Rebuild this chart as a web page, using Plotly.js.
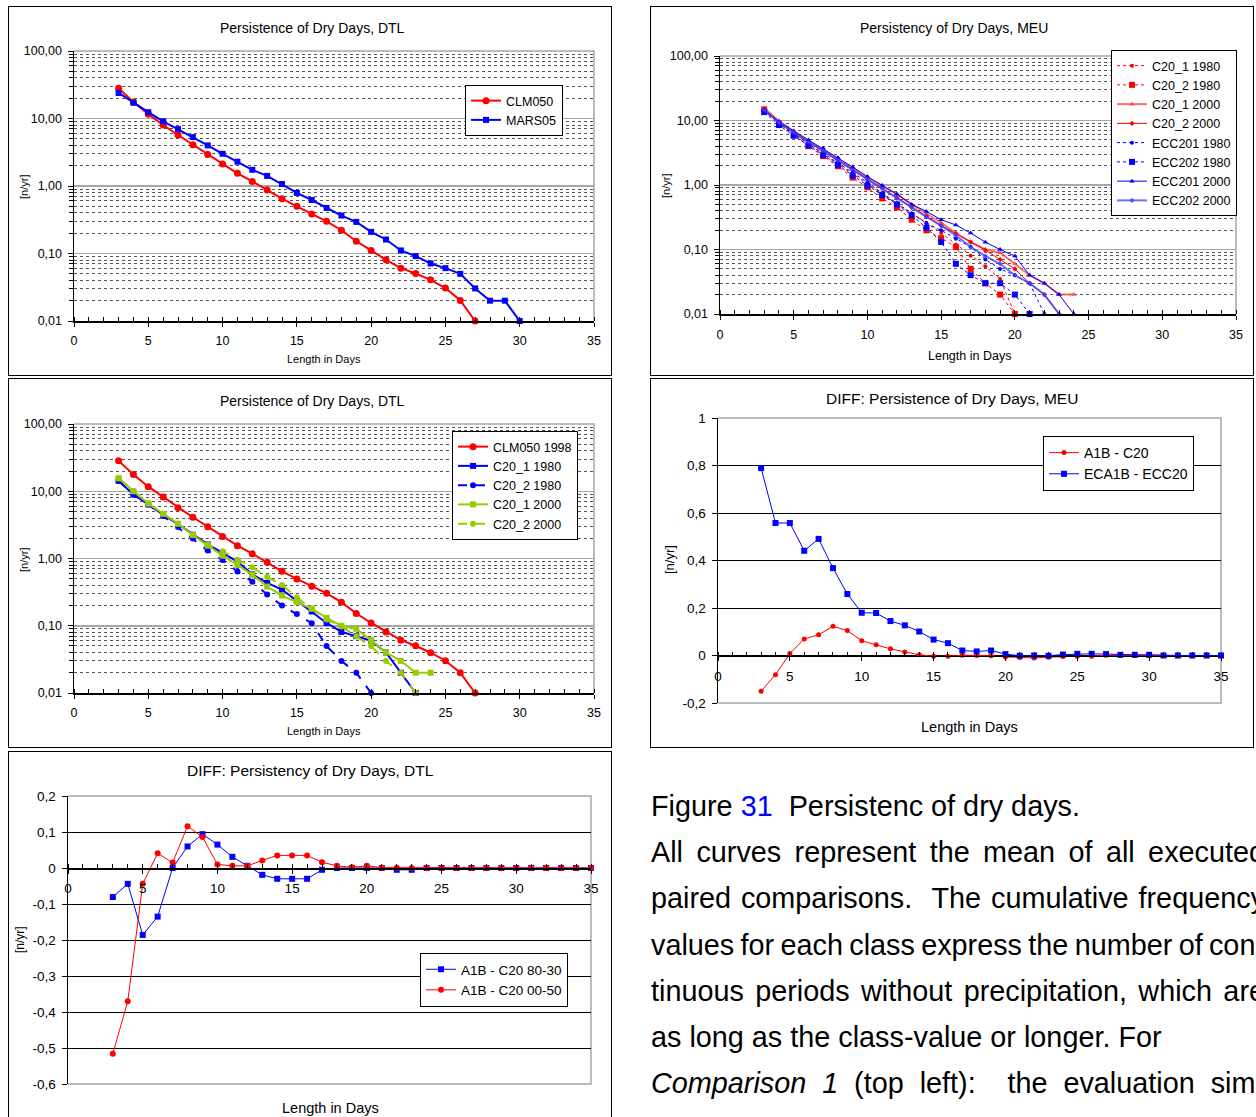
<!DOCTYPE html>
<html><head><meta charset="utf-8">
<script src="https://cdn.plot.ly/plotly-3.0.1.min.js"></script>
<style>
html,body{margin:0;padding:0;background:#fff;overflow:hidden;width:1256px;height:1117px;}
.panel{position:absolute;}
.frame{position:absolute;border:1.5px solid #000;box-sizing:border-box;pointer-events:none;}
#txt{position:absolute;left:651px;top:783px;width:614px;font-family:'Liberation Sans',Arial,Helvetica,sans-serif;font-size:28.8px;line-height:46.17px;color:#000;}
#txt div{white-space:nowrap;}
</style></head>
<body>
<div id="p1" class="panel"></div>
<div id="p2" class="panel"></div>
<div id="p3" class="panel"></div>
<div id="p4" class="panel"></div>
<div id="p5" class="panel"></div>
<div id="f1" class="frame"></div><div id="f2" class="frame"></div><div id="f3" class="frame"></div><div id="f4" class="frame"></div><div id="f5" class="frame"></div>
<div id="txt">
<div>Figure <span style="color:#0000ff">31</span>&nbsp; Persistenc of dry days.</div>
<div class="j">All curves represent the mean of all executed</div>
<div class="j">paired comparisons.&nbsp; The cumulative frequency</div>
<div class="j">values for each class express the number of con-</div>
<div class="j">tinuous periods without precipitation, which are</div>
<div>as long as the class-value or longer. For</div>
<div class="j"><i>Comparison 1</i> (top left):&nbsp; the evaluation sim-</div>
</div>
<script>
const FONT = "'Liberation Sans', Arial, Helvetica, sans-serif";

// ---------- DATA ----------
const lengthDays = [3,4,5,6,7,8,9,10,11,12,13,14,15,16,17,18,19,20,21,22,23,24,25,26,27,28,29,30,31,32,33,34,35];
const xTickVals = [0,5,10,15,20,25,30,35];
const xTickText = ['0','5','10','15','20','25','30','35'];
const logTickVals = [0.01,0.1,1,10,100];
const logTickText = ['0,01','0,10','1,00','10,00','100,00'];

// Panel 1: Persistence of Dry Days, DTL
const p1_CLM050 = [28,17.6,11.6,8.0,5.7,4.1,2.94,2.11,1.54,1.17,0.87,0.65,0.5,0.385,0.3,0.221,0.152,0.111,0.0805,0.0607,0.0506,0.0408,0.0308,0.0202,0.01];
const p1_MARS05 = [23.9,17.1,12.4,9.1,6.96,5.3,3.99,3.0,2.29,1.74,1.41,1.07,0.79,0.62,0.473,0.365,0.294,0.209,0.161,0.111,0.0914,0.0712,0.0607,0.05,0.0304,0.02,0.02,0.01];

// Panel 2: Persistency of Dry Days, MEU
const p2_C20_1_1980 = [15.5,9.4,6.3,4.3,3.0,2.1,1.5,1.05,0.73,0.5,0.36,0.26,0.18,0.12,0.08,0.055,0.035,0.01];
const p2_C20_2_1980 = [14.8,9.0,6.0,4.0,2.8,1.95,1.3,0.92,0.62,0.45,0.29,0.198,0.15,0.109,0.05,0.03,0.02,0.01];
const p2_C20_1_2000 = [15.5,9.8,6.8,4.8,3.5,2.5,1.8,1.3,0.97,0.72,0.5,0.36,0.26,0.18,0.13,0.1,0.089,0.06,0.04,0.03,0.02,0.02];
const p2_C20_2_2000 = [15.0,9.5,6.5,4.6,3.3,2.35,1.7,1.22,0.9,0.64,0.45,0.33,0.235,0.176,0.131,0.098,0.07,0.05,0.03,0.02,0.01];
const p2_ECC201_1980 = [14.5,9.0,6.2,4.3,3.1,2.2,1.55,1.1,0.75,0.52,0.36,0.256,0.198,0.147,0.11,0.07,0.05,0.04,0.03,0.01];
const p2_ECC202_1980 = [13.5,8.5,5.8,4.1,2.9,2.05,1.4,0.98,0.7,0.5,0.34,0.217,0.131,0.06,0.04,0.03,0.03,0.02,0.01];
const p2_ECC201_2000 = [14.0,9.6,6.9,5.0,3.7,2.65,1.9,1.35,0.98,0.72,0.5,0.39,0.29,0.24,0.18,0.13,0.1,0.079,0.04,0.03,0.02,0.01];
const p2_ECC202_2000 = [14.5,9.3,6.5,4.6,3.4,2.4,1.72,1.22,0.88,0.62,0.45,0.32,0.235,0.165,0.11,0.079,0.06,0.04,0.03,0.02,0.01];

// Panel 3: Persistence of Dry Days, DTL
const p3_CLM050_1998 = [28.3,17.7,11.7,8.2,5.7,4.1,2.97,2.13,1.55,1.18,0.88,0.645,0.497,0.387,0.304,0.224,0.152,0.11,0.081,0.061,0.0504,0.0397,0.0302,0.02,0.01];
const p3_C20_1_1980 = [14.3,8.95,6.36,4.47,3.25,2.26,1.62,1.21,0.9,0.582,0.433,0.345,0.237,0.163,0.11,0.081,0.07,0.06,0.04,0.02,0.01];
const p3_C20_2_1980 = [14.3,8.95,6.36,4.3,2.93,1.99,1.31,0.95,0.64,0.453,0.291,0.2,0.149,0.109,0.0498,0.03,0.02,0.01];
const p3_C20_1_2000 = [15.6,10.0,6.58,4.62,3.29,2.23,1.55,1.1,0.8,0.576,0.382,0.281,0.224,0.18,0.131,0.0998,0.09,0.061,0.04,0.03,0.02,0.02];
const p3_C20_2_2000 = [15.6,10.0,6.58,4.62,3.29,2.23,1.62,1.28,0.96,0.74,0.532,0.405,0.262,0.178,0.124,0.0975,0.07,0.0498,0.03,0.02,0.01];

// Panel 4: DIFF: Persistence of Dry Days, MEU
const p4_A1B_C20 = [-0.15,-0.081,0.008,0.07,0.087,0.123,0.105,0.062,0.045,0.028,0.015,0.003,-0.003,-0.003,0.001,0,-0.001,-0.006,-0.008,-0.01,-0.007,-0.004,-0.003,-0.003,0.001,0.001,0,-0.001,0,0,0,0,0];
const p4_ECA1B_ECC20 = [0.789,0.558,0.558,0.441,0.491,0.368,0.259,0.18,0.179,0.145,0.127,0.101,0.067,0.052,0.021,0.017,0.021,0.006,-0.001,0,-0.001,0.004,0.007,0.007,0.006,0.003,0.003,0.003,0,0,0,0,0];
const p4_yTickVals = [-0.2,0,0.2,0.4,0.6,0.8,1];
const p4_yTickText = ['-0,2','0','0,2','0,4','0,6','0,8','1'];

// Panel 5: DIFF: Persistency of Dry Days, DTL
const p5_A1B_C20_8030 = [-0.0806,-0.044,-0.186,-0.135,0,0.06,0.094,0.065,0.031,0.006,-0.019,-0.03,-0.03,-0.03,-0.005,0,0,0,0,-0.005,-0.005,0,0,0,0,0,0,0,0,0,0,0,0];
const p5_A1B_C20_0050 = [-0.516,-0.37,-0.044,0.041,0.015,0.116,0.086,0.01,0.006,0.006,0.021,0.035,0.035,0.035,0.016,0.006,0.002,0.006,0.001,0.001,0,0,0,0,0,0,0,0,0,0,0,0,0];
const p5_yTickVals = [-0.6,-0.5,-0.4,-0.3,-0.2,-0.1,0,0.1,0.2];
const p5_yTickText = ['-0,6','-0,5','-0,4','-0,3','-0,2','-0,1','0','0,1','0,2'];

// ---------- HELPERS ----------
function days(vals){ return lengthDays.slice(0, vals.length); }
const MINOR = [];
for (let e=-2; e<2; e++) for (let m=2; m<10; m++) MINOR.push(m*Math.pow(10,e));

function P(area, px, py){ return [(px-area.x0)/(area.x1-area.x0), (area.y1-py)/(area.y1-area.y0)]; }
function ann(area, text, px, py, size, rot){
  const [x,y] = P(area, px, py);
  return {text:text, x:x, y:y, xref:'paper', yref:'paper', xanchor:'center', yanchor:'middle', showarrow:false,
          font:{family:FONT, size:size, color:'#000'}, textangle: rot||0};
}
function baseLayout(box, area){
  return {
    width: box.w, height: box.h,
    margin: {l: area.x0-box.x, r: box.x+box.w-area.x1, t: area.y0-box.y, b: box.y+box.h-area.y1, pad:0},
    paper_bgcolor:'#fff', plot_bgcolor:'#fff',
    font:{family:FONT, size:12.5, color:'#000'},
    hovermode:false, showlegend:true
  };
}
function legendAt(area, px, py, size){
  const [x,y] = P(area, px, py);
  return {x:x, y:y, xanchor:'left', yanchor:'top', bgcolor:'#fff', bordercolor:'#000', borderwidth:1,
          font:{family:FONT, size:size, color:'#000'}, tracegroupgap:0, itemwidth:30};
}
function dayX(fs, standoff, extra){
  return Object.assign({range:[0,35], tickmode:'array', tickvals:xTickVals, ticktext:xTickText,
    ticks:'outside', ticklen:4, tickwidth:1, tickcolor:'#000', showline:true, linecolor:'#000', linewidth:1.5,
    showgrid:false, zeroline:false, ticklabelstandoff:standoff, tickfont:{family:FONT,size:fs,color:'#000'},
    minor:{tickmode:'linear', tick0:0, dtick:1, ticks:'inside', ticklen:4, tickwidth:1, tickcolor:'#000', showgrid:false},
    fixedrange:true}, extra||{});
}
function logY(fs){
  return {type:'log', range:[-2,2], tickmode:'array', tickvals:logTickVals, ticktext:logTickText,
    ticks:'outside', ticklen:5, tickwidth:1, tickcolor:'#000', showline:true, linecolor:'#000', linewidth:1.5,
    showgrid:true, gridcolor:'#a6a6a6', gridwidth:1.5, zeroline:false, ticklabelstandoff:3,
    tickfont:{family:FONT,size:fs,color:'#000'},
    minor:{tickmode:'array', tickvals:MINOR, ticks:'outside', ticklen:4, tickwidth:1, tickcolor:'#000',
           showgrid:true, gridcolor:'#555', gridwidth:1, griddash:'dot'}, fixedrange:true};
}
function border(closedBottom){
  return {type:'path', xref:'paper', yref:'paper', layer:'between',
          path: closedBottom ? 'M0,0L1,0L1,1L0,1' : 'M0,1L1,1L1,0',
          line:{color:'#a6a6a6', width:1.5}};
}
function tr(name, y, color, dash, width, symbol, msize){
  return {type:'scatter', mode:'lines+markers', name:name, x:days(y), y:y, cliponaxis:false,
          line:{color:color, dash:dash, width:width}, marker:{symbol:symbol, size:msize, color:color}};
}
function place(id, fid, box){
  for (const d of [id, fid]) {
    const el = document.getElementById(d);
    el.style.left = box.x+'px'; el.style.top = box.y+'px';
    el.style.width = box.w+'px'; el.style.height = box.h+'px';
  }
}
const CFG = {staticPlot:true, displayModeBar:false};
const RED = '#ff0000', BLUE = '#0000ff', GREEN = '#99cc00';

// ---------- PANEL 1 ----------
(function(){
  const box = {x:8, y:6, w:604, h:370};
  const area = {x0:74, x1:594, y0:51, y1:321};
  place('p1','f1',box);
  const L = baseLayout(box, area);
  L.xaxis = dayX(12.5, 3);
  L.yaxis = logY(12.5);
  L.legend = legendAt(area, 465, 85, 12.5);
  L.shapes = [border(false)];
  L.annotations = [
    ann(area, 'Persistence of Dry Days, DTL', 312, 28, 14),
    ann(area, 'Length in Days', 324, 359, 11),
    ann(area, '[n/yr]', 24, 187, 11, -90)
  ];
  Plotly.newPlot('p1', [
    tr('CLM050', p1_CLM050, RED, 'solid', 2, 'circle', 7),
    tr('MARS05', p1_MARS05, BLUE, 'solid', 2, 'square', 6)
  ], L, CFG);
})();

// ---------- PANEL 2 ----------
(function(){
  const box = {x:650, y:6, w:604, h:370};
  const area = {x0:720, x1:1236, y0:56, y1:314};
  place('p2','f2',box);
  const L = baseLayout(box, area);
  L.xaxis = dayX(12.5, 4);
  L.yaxis = logY(12.5);
  L.legend = legendAt(area, 1111, 50, 12.5);
  L.shapes = [border(false)];
  L.annotations = [
    ann(area, 'Persistency of Dry Days, MEU', 954, 28, 14),
    ann(area, 'Length in Days', 969, 356, 12.5),
    ann(area, '[n/yr]', 666, 186, 11, -90)
  ];
  Plotly.newPlot('p2', [
    tr('C20_1 1980', p2_C20_1_1980, RED, 'dot', 1, 'circle', 4),
    tr('C20_2 1980', p2_C20_2_1980, RED, 'dot', 1, 'square', 6),
    tr('C20_1 2000', p2_C20_1_2000, 'rgba(255,60,60,0.75)', 'solid', 2, 'triangle-up', 5),
    tr('C20_2 2000', p2_C20_2_2000, RED, 'solid', 1, 'diamond', 4),
    tr('ECC201 1980', p2_ECC201_1980, BLUE, 'dot', 1, 'circle', 4),
    tr('ECC202 1980', p2_ECC202_1980, BLUE, 'dot', 1, 'square', 6),
    tr('ECC201 2000', p2_ECC201_2000, BLUE, 'solid', 1, 'triangle-up', 5),
    tr('ECC202 2000', p2_ECC202_2000, 'rgba(60,60,255,0.75)', 'solid', 2, 'diamond', 4)
  ], L, CFG);
})();

// ---------- PANEL 3 ----------
(function(){
  const box = {x:8, y:378, w:604, h:370};
  const area = {x0:74, x1:594, y0:424, y1:693};
  place('p3','f3',box);
  const L = baseLayout(box, area);
  L.xaxis = dayX(12.5, 3);
  L.yaxis = logY(12.5);
  L.legend = legendAt(area, 452, 431, 12.5);
  L.shapes = [border(false)];
  L.annotations = [
    ann(area, 'Persistence of Dry Days, DTL', 312, 401, 14),
    ann(area, 'Length in Days', 324, 731, 11),
    ann(area, '[n/yr]', 24, 560, 11, -90)
  ];
  Plotly.newPlot('p3', [
    tr('CLM050 1998', p3_CLM050_1998, RED, 'solid', 2, 'circle', 7),
    tr('C20_1 1980', p3_C20_1_1980, BLUE, 'solid', 2, 'square', 6),
    tr('C20_2 1980', p3_C20_2_1980, BLUE, 'dash', 2, 'circle', 6),
    tr('C20_1 2000', p3_C20_1_2000, GREEN, 'solid', 2, 'square', 6),
    tr('C20_2 2000', p3_C20_2_2000, GREEN, 'dash', 2, 'circle', 6)
  ], L, CFG);
})();

// ---------- PANEL 4 ----------
(function(){
  const box = {x:650, y:378, w:604, h:370};
  const area = {x0:718, x1:1221, y0:418, y1:703};
  place('p4','f4',box);
  const L = baseLayout(box, area);
  L.xaxis = dayX(13.5, 4, {anchor:'free', position:0.2/1.2});
  L.yaxis = {range:[-0.2,1], tickmode:'array', tickvals:p4_yTickVals, ticktext:p4_yTickText,
    ticks:'outside', ticklen:5, tickwidth:1, tickcolor:'#000', showline:true, linecolor:'#000', linewidth:1.5,
    showgrid:true, gridcolor:'#000', gridwidth:1, zeroline:false, ticklabelstandoff:3,
    tickfont:{family:FONT,size:13.5,color:'#000'}, fixedrange:true};
  L.legend = legendAt(area, 1043, 436, 14);
  L.shapes = [border(true)];
  L.annotations = [
    ann(area, 'DIFF: Persistence of Dry Days, MEU', 952, 398, 15.5),
    ann(area, 'Length in Days', 969, 727, 14.5),
    ann(area, '[n/yr]', 669, 560, 13, -90)
  ];
  Plotly.newPlot('p4', [
    tr('A1B - C20', p4_A1B_C20, RED, 'solid', 1, 'circle', 5),
    tr('ECA1B - ECC20', p4_ECA1B_ECC20, BLUE, 'solid', 1, 'square', 6)
  ], L, CFG);
})();

// ---------- PANEL 5 ----------
(function(){
  const box = {x:8, y:751, w:604, h:372};
  const area = {x0:68, x1:591, y0:796, y1:1084};
  place('p5','f5',box);
  const L = baseLayout(box, area);
  L.xaxis = dayX(13.5, 3, {anchor:'free', position:0.6/0.8});
  L.yaxis = {range:[-0.6,0.2], tickmode:'array', tickvals:p5_yTickVals, ticktext:p5_yTickText,
    ticks:'outside', ticklen:5, tickwidth:1, tickcolor:'#000', showline:true, linecolor:'#000', linewidth:1.5,
    showgrid:true, gridcolor:'#000', gridwidth:1, zeroline:false, ticklabelstandoff:3,
    tickfont:{family:FONT,size:13.5,color:'#000'}, fixedrange:true};
  L.legend = legendAt(area, 420, 953, 13.5);
  L.shapes = [border(true)];
  L.annotations = [
    ann(area, 'DIFF: Persistency of Dry Days, DTL', 310, 771, 15.5),
    ann(area, 'Length in Days', 330, 1108, 14.5),
    ann(area, '[n/yr]', 20, 940, 12, -90)
  ];
  Plotly.newPlot('p5', [
    tr('A1B - C20 80-30', p5_A1B_C20_8030, BLUE, 'solid', 1, 'square', 6),
    tr('A1B - C20 00-50', p5_A1B_C20_0050, RED, 'solid', 1, 'circle', 6)
  ], L, CFG);
})();

// ---------- TEXT JUSTIFICATION ----------
const TXT_W = 614;
document.querySelectorAll('#txt .j').forEach(function(el){
  el.style.display = 'inline-block';
  const w = el.getBoundingClientRect().width;
  const gaps = (el.textContent.match(/[ \u00a0]/g) || []).length;
  el.style.wordSpacing = ((TXT_W - w) / gaps) + 'px';
  el.style.display = 'block';
});
</script>
</body></html>
